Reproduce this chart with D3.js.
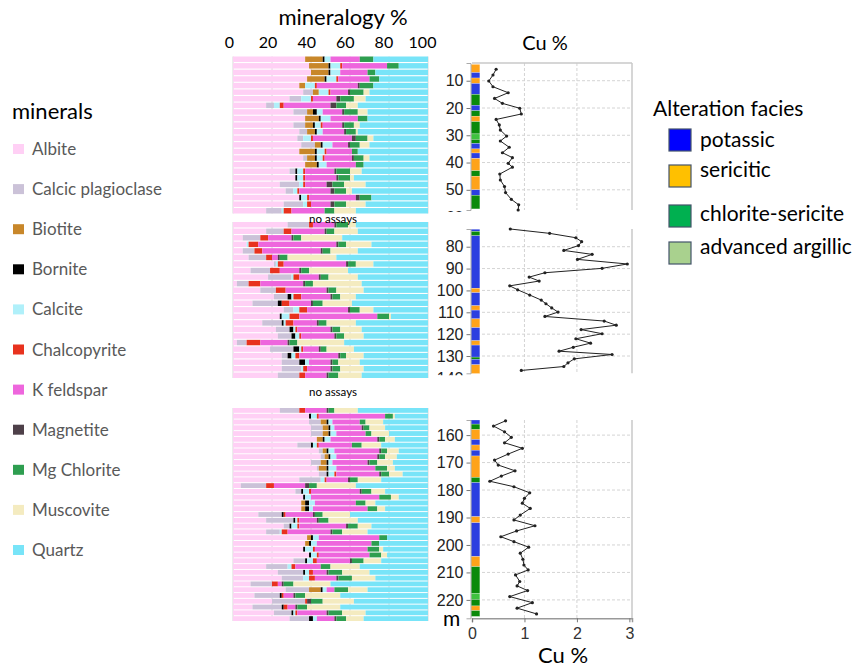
<!DOCTYPE html>
<html>
<head>
<meta charset="utf-8" />
<script src="https://cdn.jsdelivr.net/npm/d3@7"></script>
<style>
  body { margin: 0; background: #fff; }
  svg text { font-family: Lato, "Open Sans", sans-serif; }
  .depth text { font-family: "Liberation Sans Narrow", "Liberation Sans", sans-serif; }
</style>
</head>
<body>
<svg width="864" height="669"></svg>
<script>
// mineral names (stack order) and their colours
const minerals = ["Albite", "Calcic plagioclase", "Biotite", "Bornite", "Calcite", "Chalcopyrite",
  "K feldspar", "Magnetite", "Mg Chlorite", "Muscovite", "Quartz"];
const mineralColors = ["#ffd0f5", "#cbc2d8", "#c8872a", "#000000", "#b0f0fa", "#e8321e",
  "#ee66dd", "#4e4049", "#2e9e50", "#f4ebc0", "#78e4f8"];
const mineralTicks = [0, 20, 40, 60, 80, 100];

// mineralogy % per sample, same order as minerals
const topRows = [
  [37,0,9,1,3,0,15,0,7,0,28], [39,0,10,1,5,1,23,0,6,0,15], [40,0,9,1,5,0,14,0,4,0,27],
  [38,0,9,1,5,1,16,0,5,0,25], [34,0,3,0,5,1,21,1,7,0,28], [36,5,3,0,5,1,9,1,7,3,30],
  [29,6,0,0,5,1,12,2,7,6,32], [17,4,0,0,3,2,24,3,5,6,36], [31,7,3,2,3,0,10,1,7,5,31],
  [37,0,7,1,5,0,14,0,5,0,31], [31,6,4,1,3,1,10,1,5,3,35], [34,4,4,1,3,0,11,1,5,1,36],
  [33,3,0,0,4,1,20,2,6,3,28], [35,7,3,1,5,0,8,1,5,5,30], [34,0,8,1,4,1,13,0,3,0,36],
  [36,2,4,1,3,1,14,1,5,3,30], [37,0,6,1,4,0,15,0,4,0,33], [29,3,0,1,3,1,15,1,7,6,34],
  [32,0,0,1,3,1,16,1,6,2,38], [24,10,0,0,2,1,11,3,6,11,32], [27,4,0,0,2,1,16,2,6,3,39],
  [34,0,0,1,3,1,24,2,6,0,29], [26,10,0,0,2,2,10,2,6,10,32], [17,8,0,0,1,4,17,0,5,11,37]
];
const midRows = [
  [28,11,0,0,0,2,11,1,6,4,37], [17,9,0,0,0,4,17,1,4,12,36], [5,9,0,0,0,4,12,1,4,21,44],
  [7,0,0,0,1,5,40,1,4,13,29], [5,6,0,0,0,4,30,1,4,14,36], [8,9,0,0,0,3,3,1,4,25,47],
  [21,1,0,0,1,3,32,1,4,9,28], [9,10,0,0,0,5,10,1,4,20,41], [18,12,0,0,1,3,10,1,4,15,36],
  [2,6,0,0,0,6,22,1,4,25,34], [14,8,0,0,0,5,21,1,4,14,33], [21,7,0,2,1,4,15,1,4,8,37],
  [10,13,0,2,0,4,11,1,5,15,39], [26,5,0,0,3,4,21,1,5,7,28], [24,0,0,1,4,5,40,0,6,1,19],
  [15,10,0,1,1,4,12,1,4,15,37], [22,7,0,2,1,1,17,1,4,11,34], [23,7,0,2,2,1,17,1,4,10,33],
  [2,5,0,0,0,7,14,1,4,24,43], [19,12,0,3,1,1,8,1,3,14,38], [25,3,0,2,2,2,20,1,3,9,33],
  [25,9,0,3,2,0,11,1,3,11,35], [25,10,0,0,1,2,12,1,4,12,33], [23,11,0,0,0,3,11,1,5,12,34]
];
const botRows = [
  [24,10,0,0,0,3,11,1,3,12,36], [39,0,0,1,3,1,34,0,4,1,17], [39,6,3,1,2,0,14,0,3,9,23],
  [40,6,3,1,2,0,14,1,3,8,22], [40,6,3,1,3,0,15,0,3,9,20], [43,0,3,1,3,0,24,1,3,5,17],
  [33,7,0,1,2,1,17,0,5,10,24], [44,2,2,1,3,0,23,1,3,6,15], [45,2,2,1,3,0,21,1,3,6,16],
  [40,5,3,1,2,0,18,1,4,8,18], [43,1,4,1,4,0,20,0,6,4,17], [44,4,0,1,3,1,22,1,4,7,13],
  [34,11,0,0,2,1,11,1,4,12,24], [4,13,0,0,0,4,16,2,4,20,37], [32,3,0,1,3,1,25,1,5,7,22],
  [36,0,0,1,3,0,35,0,6,4,15], [35,0,2,2,3,0,21,0,5,5,27], [35,0,2,2,2,0,28,0,5,4,22],
  [13,12,0,1,0,1,14,1,4,14,40], [17,14,0,1,1,1,9,1,5,15,36], [26,3,0,1,3,1,24,1,5,7,29],
  [17,7,0,0,1,3,22,1,5,13,31], [38,0,2,1,3,0,31,0,4,0,21], [37,0,2,1,3,0,28,0,4,0,25],
  [36,0,0,1,4,1,27,0,6,2,23], [39,0,0,1,3,1,26,0,6,3,21], [31,6,0,1,3,2,17,1,6,9,24],
  [17,11,0,0,2,2,13,0,5,15,35], [23,13,0,1,2,2,7,1,7,14,30], [25,11,0,0,3,3,11,1,7,12,27],
  [9,11,0,0,0,3,2,1,5,19,50], [27,12,6,1,2,0,4,0,7,10,31], [11,13,0,1,0,1,5,1,5,18,45],
  [20,17,0,0,0,1,0,2,6,16,38], [10,15,0,1,0,2,4,1,5,17,45], [21,9,0,1,1,1,15,1,7,12,32],
  [29,10,0,2,2,0,9,1,5,9,33]
];

// Cu % against depth (m)
const cuTopDepth = [5.8,7.9,10.1,12.2,14.4,16.5,18.3,20.1,22.2,24.2,26.2,28.1,30.3,32.1,34.4,36.4,38.2,40.3,41.7,44.2,46.4,48.8,51.0,53.5,55.5,57.4];
const cuTopValue = [0.46,0.40,0.32,0.40,0.69,0.43,0.58,0.91,0.94,0.46,0.52,0.54,0.66,0.54,0.71,0.58,0.77,0.69,0.77,0.53,0.54,0.62,0.64,0.75,0.89,0.88];
const cuMidDepth = [71.9,73.9,75.9,77.7,79.5,81.7,83.5,85.8,87.9,89.9,91.9,93.9,95.7,97.9,99.7,102.1,104.4,106.1,108.0,109.9,111.9,114.0,115.9,117.9,119.8,122.1,124.1,126.0,127.8,129.3,131.3,133.1,134.8,136.6];
const cuMidValue = [0.73,1.48,1.98,2.09,2.03,1.75,2.29,2.01,2.96,2.48,1.39,1.09,1.28,0.72,0.87,1.10,1.32,1.41,1.52,1.64,1.39,2.52,2.75,2.08,2.48,1.98,2.26,1.93,1.66,2.67,1.95,1.83,1.75,0.94];
const cuBotDepth = [154.8,156.7,158.8,160.8,162.8,164.8,166.9,169.1,170.9,173.0,174.9,176.8,178.8,181.0,183.0,184.8,186.7,189.1,190.9,193.0,194.9,197.0,198.8,200.8,203.0,205.2,207.3,209.1,210.9,213.3,214.9,216.6,218.8,221.0,223.0,225.1];
const cuBotValue = [0.64,0.41,0.62,0.75,0.62,0.96,0.69,0.43,0.50,0.82,0.56,0.34,0.80,1.10,1.00,0.96,1.11,0.92,0.80,1.20,0.85,0.55,0.80,1.08,0.92,0.97,0.99,1.07,0.83,0.91,0.86,1.06,0.72,1.15,0.86,1.23];

// alteration facies intervals: [from m, to m, facies index]
const facies = ["potassic", "sericitic", "chlorite-sericite", "advanced argillic"];
const faciesLegendColors = ["#0000ff", "#ffc000", "#00b050", "#a9d18e"];
const faciesStripColors = ["#2b3fe0", "#ffa31a", "#0b8a0b", "#3fc23f"];
const altTop = [[4,7,1],[7,9,0],[9,11,1],[11,15,0],[15,19,2],[19,21,0],[21,23,2],[23,25,1],[25,29.5,2],
  [29.5,31.5,3],[31.5,33,2],[33,35,0],[35,36.5,1],[36.5,38.5,0],[38.5,43,1],[43,45,2],[45,50,1],[50,52,0],[52,57,2]];
const altMid = [[72,73,0],[73,75,2],[75,99,0],[99,101,1],[101,107,0],[107,109,1],[109,113,0],[113,117,1],
  [117,123,0],[123,125,1],[125,130.5,0],[130.5,131.5,2],[131.5,134,0],[134,138,1]];
const altBot = [[154.5,156,0],[156,158,2],[158,161.6,1],[161.6,163.6,0],[163.6,165.5,1],[165.5,167.6,0],
  [167.6,175.4,1],[175.4,177.3,2],[177.3,189.7,0],[189.7,191.9,1],[191.9,204.2,0],[204.2,207.9,1],
  [207.9,217.6,2],[217.6,219.8,3],[219.8,222.2,2],[222.2,223.9,1],[223.9,226,2]];

const svg = d3.select("svg");

// ---------- mineralogy stacked bars ----------
const x = d3.scaleLinear().domain([0, 100]).range([233, 428]);
const xLab = d3.scaleLinear().domain([0, 100]).range([229, 422]);
const stack = d3.stack().keys(minerals);

svg.append("text").attr("x", 343).attr("y", 25).attr("text-anchor", "middle")
  .attr("font-size", 22).text("mineralogy %");

svg.append("g")
  .attr("transform", "translate(0,48)")
  .call(d3.axisTop(xLab).tickValues(mineralTicks).tickSize(0).tickPadding(0))
  .call(g => g.select(".domain").remove())
  .call(g => g.selectAll("text").attr("font-size", 16).attr("fill", "#000").attr("dy", 0));

function drawSection(rows, y0, y1) {
  const data = rows.map(r => Object.fromEntries(minerals.map((m, i) => [m, r[i]])));
  const y = d3.scaleBand().domain(d3.range(rows.length)).range([y0, y1]).paddingInner(0.17);
  const g = svg.append("g");

  g.selectAll("line.grid").data(mineralTicks).join("line")
    .attr("x1", d => x(d)).attr("x2", d => x(d))
    .attr("y1", y0).attr("y2", y1)
    .attr("stroke", "#d8d8d8");

  g.selectAll("g.layer").data(stack(data)).join("g")
    .attr("fill", (d, i) => mineralColors[i])
    .selectAll("rect").data(d => d).join("rect")
    .attr("x", d => x(d[0]))
    .attr("width", d => Math.max(0, x(d[1]) - x(d[0])))
    .attr("y", (d, i) => y(i))
    .attr("height", y.bandwidth());
}

drawSection(topRows, 56.5, 213.5);
drawSection(midRows, 222, 378);
drawSection(botRows, 408, 621);

[218.5, 392].forEach(yy => {
  svg.append("text").attr("x", 333).attr("y", yy + 4).attr("text-anchor", "middle")
    .attr("font-size", 11.5).text("no assays");
});

// ---------- Cu panels ----------
const xCu = d3.scaleLinear().domain([0, 3.05]).range([472, 632]);

svg.append("text").attr("x", 545).attr("y", 50).attr("text-anchor", "middle")
  .attr("font-size", 20).text("Cu %");

const panels = [
  { depth: cuTopDepth, cu: cuTopValue, alt: altTop, domain: [3.5, 57.4], range: [63, 210], ticks: [10,20,30,40,50,60], top: true },
  { depth: cuMidDepth, cu: cuMidValue, alt: altMid, domain: [71.9, 137.9], range: [229, 373.3], ticks: [80,90,100,110,120,130,140] },
  { depth: cuBotDepth, cu: cuBotValue, alt: altBot, domain: [154.5, 226.7], range: [420, 618.3], ticks: [160,170,180,190,200,210,220], bottom: true }
];

panels.forEach((p, k) => {
  const y = d3.scaleLinear().domain(p.domain).range(p.range);
  const g = svg.append("g");
  const [ya, yb] = p.range;

  // clip in the axis group's own coordinates (it is shifted to x = 470.5)
  const clipId = "clip" + k;
  svg.append("clipPath").attr("id", clipId).append("rect")
    .attr("x", -50).attr("y", ya - 10).attr("width", 60).attr("height", yb - ya + 12);

  // grid
  const inRange = p.ticks.filter(t => y(t) >= ya && y(t) <= yb);
  g.selectAll("line.hgrid").data(inRange).join("line")
    .attr("x1", xCu(0)).attr("x2", xCu(3.05))
    .attr("y1", d => y(d)).attr("y2", d => y(d))
    .attr("stroke", "#d4d4d4").attr("stroke-dasharray", "3,2");
  g.selectAll("line.vgrid").data([1, 2]).join("line")
    .attr("x1", d => xCu(d)).attr("x2", d => xCu(d))
    .attr("y1", ya).attr("y2", yb)
    .attr("stroke", "#d4d4d4").attr("stroke-dasharray", "3,2");
  g.append("line").attr("x1", xCu(3.05)).attr("x2", xCu(3.05))
    .attr("y1", ya).attr("y2", yb).attr("stroke", "#c8c8c8").attr("stroke-width", 1.5);
  if (p.top) {
    g.append("line").attr("x1", xCu(0)).attr("x2", xCu(3.05))
      .attr("y1", ya).attr("y2", ya).attr("stroke", "#c8c8c8").attr("stroke-width", 1.5);
  }

  // depth axis
  svg.append("g").attr("class", "depth")
    .attr("transform", "translate(470.5,0)")
    .attr("clip-path", "url(#" + clipId + ")")
    .call(d3.axisLeft(y).tickValues(p.ticks).tickSize(4).tickPadding(3))
    .call(a => a.select(".domain").attr("stroke", "#aaa"))
    .call(a => a.selectAll(".tick line").attr("stroke", "#777"))
    .call(a => a.selectAll("text").attr("font-size", 16).attr("fill", "#222"));

  // alteration strip
  g.selectAll("rect.alt").data(p.alt).join("rect")
    .attr("x", xCu(0) - 1).attr("width", xCu(0.15) - xCu(0) + 1)
    .attr("y", d => y(d[0])).attr("height", d => y(d[1]) - y(d[0]))
    .attr("fill", d => faciesStripColors[d[2]])
    .attr("stroke", "#ffffff").attr("stroke-width", 0.4).attr("stroke-opacity", 0.6);

  // Cu line and points
  const pts = p.depth.map((d, i) => [p.cu[i], d]);
  const line = d3.line().x(d => xCu(d[0])).y(d => y(d[1]));
  g.append("path").datum(pts).attr("d", line)
    .attr("fill", "none").attr("stroke", "#222").attr("stroke-width", 1);
  g.selectAll("circle").data(pts).join("circle")
    .attr("cx", d => xCu(d[0])).attr("cy", d => y(d[1])).attr("r", 1.6).attr("fill", "#222");

  if (p.bottom) {
    svg.append("g").attr("class", "depth")
      .attr("transform", "translate(0," + yb + ")")
      .call(d3.axisBottom(xCu).tickValues([0, 1, 2, 3]).tickSize(4).tickPadding(5).tickFormat(d3.format("d")))
      .call(a => a.select(".domain").attr("stroke", "#999").attr("stroke-width", 1.5))
      .call(a => a.selectAll(".tick line").attr("stroke", "#777"))
      .call(a => a.selectAll("text").attr("font-size", 16).attr("fill", "#333"));
  }
});

svg.append("text").attr("x", 443).attr("y", 626).attr("font-size", 21).text("m");
svg.append("text").attr("x", 563).attr("y", 663).attr("text-anchor", "middle")
  .attr("font-size", 22).text("Cu %");

// ---------- mineral legend ----------
svg.append("text").attr("x", 12).attr("y", 119).attr("font-size", 22).text("minerals");
const leg = svg.append("g").selectAll("g").data(minerals).join("g")
  .attr("transform", (d, i) => "translate(0," + (149 + i * 40.1) + ")");
leg.append("rect").attr("x", 13).attr("y", -5).attr("width", 11).attr("height", 10)
  .attr("fill", (d, i) => mineralColors[i]);
leg.append("text").attr("x", 32).attr("y", 6).attr("font-size", 17)
  .attr("fill", "#595959").text(d => d);

// ---------- facies legend ----------
svg.append("text").attr("x", 653).attr("y", 116).attr("font-size", 21).text("Alteration facies");
const faciesBox = [129, 165, 205, 242];
const faciesText = [147, 177, 221, 254];
const fl = svg.append("g").selectAll("g").data(facies).join("g");
fl.append("rect").attr("x", 669).attr("y", (d, i) => faciesBox[i]).attr("width", 22).attr("height", 22)
  .attr("fill", (d, i) => faciesLegendColors[i]).attr("stroke", "#44546a").attr("stroke-width", 1.2);
fl.append("text").attr("x", 700).attr("y", (d, i) => faciesText[i]).attr("font-size", 21).text(d => d);
</script>
</body>
</html>
